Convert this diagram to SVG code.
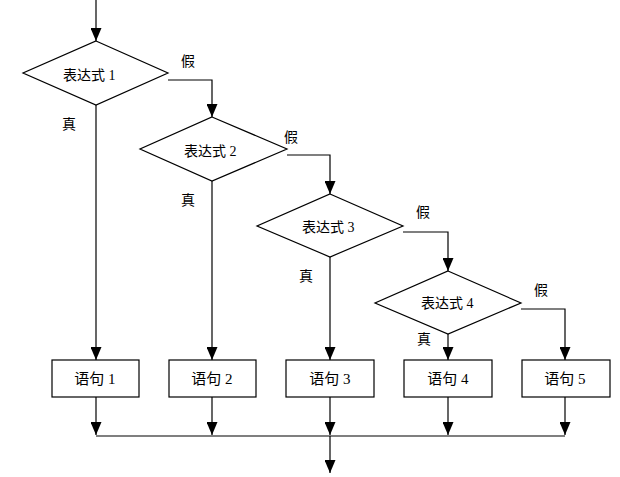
<svg xmlns="http://www.w3.org/2000/svg" width="620" height="477" viewBox="0 0 620 477">
<style>
.shape{fill:#fff;stroke:#000;stroke-width:1.2}
.line{fill:none;stroke:#000;stroke-width:1.2}
.arr{marker-end:url(#ah)}
.t{font-family:"Liberation Serif","Noto Sans CJK SC",serif;font-size:14px;fill:#000}
.bt{font-family:"Liberation Serif","Noto Sans CJK SC",serif;font-size:15px;fill:#000;text-anchor:middle}
</style>
<defs>
<marker id="ah" markerUnits="userSpaceOnUse" markerWidth="13" markerHeight="11" refX="13" refY="5.5" viewBox="0 0 13 11" orient="auto">
<path d="M0,0 L13,5.5 L0,11 z" fill="#000"/>
</marker>
</defs>
<rect width="620" height="477" fill="#fff"/>
<g id="connectors">
<path class="line arr" d="M96,0 V41"/>
<path class="line arr" d="M168,80 H212 V117"/>
<path class="line arr" d="M287,155 H330 V194"/>
<path class="line arr" d="M403,232 H448 V271"/>
<path class="line arr" d="M521,309 H565 V360"/>
<path class="line arr" d="M96,105 V360"/>
<path class="line arr" d="M212,181 V360"/>
<path class="line arr" d="M330,257 V360"/>
<path class="line arr" d="M448,334 V360"/>
<path class="line arr" d="M96,397 V435"/>
<path class="line arr" d="M212,397 V435"/>
<path class="line arr" d="M330,397 V435"/>
<path class="line arr" d="M448,397 V435"/>
<path class="line arr" d="M565,397 V435"/>
<path class="line" d="M96,436 H565"/>
<path class="line arr" d="M330,436 V473"/>
<text class="t" x="181" y="66">假</text>
<text class="t" x="62" y="129">真</text>
<text class="t" x="284" y="142">假</text>
<text class="t" x="181" y="205">真</text>
<text class="t" x="416" y="217">假</text>
<text class="t" x="299" y="281">真</text>
<text class="t" x="534" y="295">假</text>
<text class="t" x="417" y="344">真</text>
</g>
<g id="cond1">
<polygon class="shape" points="96,41 168,73 96,105 23,73"/>
<text class="t" x="63" y="80">表达式 1</text>
</g>
<g id="cond2">
<polygon class="shape" points="212,117 287,149 212,181 140,149"/>
<text class="t" x="184" y="156">表达式 2</text>
</g>
<g id="cond3">
<polygon class="shape" points="330,194 403,226 330,257 257,226"/>
<text class="t" x="302" y="232">表达式 3</text>
</g>
<g id="cond4">
<polygon class="shape" points="448,271 521,303 448,334 375,303"/>
<text class="t" x="421" y="308">表达式 4</text>
</g>
<g id="stmt1">
<rect class="shape" x="52" y="360" width="87" height="37"/>
<text class="bt" x="95" y="384">语句 1</text>
</g>
<g id="stmt2">
<rect class="shape" x="169" y="360" width="87" height="37"/>
<text class="bt" x="212" y="384">语句 2</text>
</g>
<g id="stmt3">
<rect class="shape" x="286" y="360" width="88" height="37"/>
<text class="bt" x="330" y="384">语句 3</text>
</g>
<g id="stmt4">
<rect class="shape" x="404" y="360" width="88" height="37"/>
<text class="bt" x="448" y="384">语句 4</text>
</g>
<g id="stmt5">
<rect class="shape" x="522" y="360" width="88" height="37"/>
<text class="bt" x="565" y="384">语句 5</text>
</g>
</svg>
